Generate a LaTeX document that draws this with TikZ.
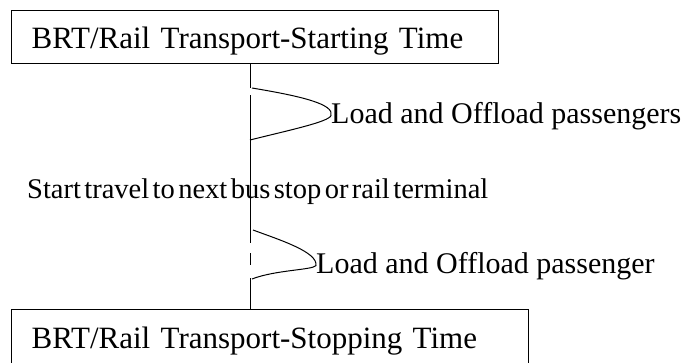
\documentclass[tikz,border=0pt]{standalone}
\usepackage{fontspec}
\setmainfont{Liberation Serif}
\usepackage{tikz}
\newcommand\travelfont{\fontsize{28.5}{30}\selectfont\spaceskip 0.12em\relax}

\begin{document}
\begin{tikzpicture}[x=1pt,y=-1pt]
\tikzstyle{every node}+=[inner sep=0pt]
\tikzstyle{timebox}=[draw,line width=1.2pt,anchor=north west,align=left,inner xsep=20pt,
  text height=38pt,text depth=15pt,font=\fontsize{31}{33}\selectfont]
\tikzstyle{lbl}=[anchor=base west,font=\fontsize{30}{32}\selectfont]
\useasboundingbox (0,0) rectangle (688,362);
\node [timebox,text width=447pt] (start) at (11,10) {BRT/Rail Transport-Starting Time};
\node [timebox,text width=477pt,text height=39pt,text depth=22pt] (stop) at (11,309) {BRT/Rail Transport-Stopping Time};
\node [lbl] (load1) at (331,123) {Load and Offload passengers};
\node [lbl] (load2) at (316,273) {Load and Offload passenger};
\node [lbl,font=\travelfont] (travel) at (27,198) {Start travel to next bus stop or rail terminal};
\coordinate (a1) at (252,88);
\coordinate (a2) at (250,140);
\coordinate (b1) at (253,230);
\coordinate (b2) at (252,279);
% time line between the two boxes
\draw [line width=1pt,dash pattern=on 24pt off 7pt on 148pt off 10pt on 12pt off 13pt on 32pt] (start.south -| 250,0) -- (stop.north -| 250,0);
% loading loops
\draw [line width=1pt] (a1) .. controls (300,96) and (335,104) .. (load1.west) .. controls (328,122) and (290,130) .. (a2);
\draw [line width=1pt] (b1) .. controls (280,240) and (318,252) .. (load2.west) .. controls (312,270) and (275,270) .. (b2);
\end{tikzpicture}
\end{document}
